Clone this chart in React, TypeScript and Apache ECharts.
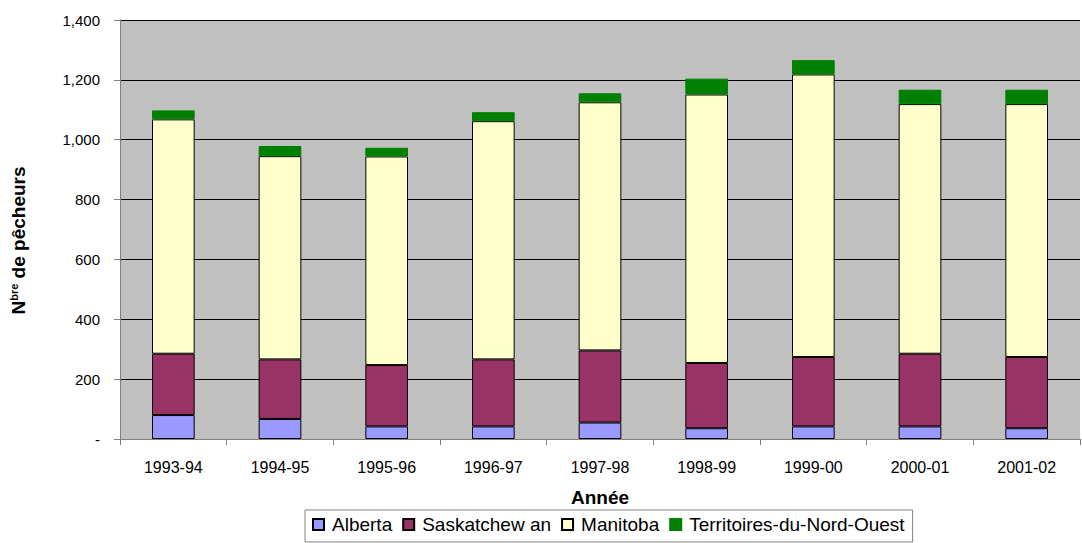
import React, { useEffect, useRef } from "react";
import * as echarts from "echarts";

const categories = ["1993-94", "1994-95", "1995-96", "1996-97", "1997-98", "1998-99", "1999-00", "2000-01", "2001-02"];
const alberta = [80, 67, 42, 42, 55, 36, 42, 42, 36];
const saskatchewan = [205, 199, 205, 224, 241, 218, 232, 243, 238];
const manitoba = [783, 679, 697, 796, 829, 897, 944, 834, 845];
const tno = [30, 34, 29, 30, 30, 53, 48, 48, 48];
const seriesNames = ["Alberta", "Saskatchew an", "Manitoba", "Territoires-du-Nord-Ouest"];
const seriesColors = ["#9999FF", "#993366", "#FFFFCC", "#008000"];

const FONT = "'Liberation Sans', Arial, sans-serif";

export default function App() {
  const ref = useRef<HTMLDivElement>(null);
  useEffect(() => {
    document.body.style.margin = "0";
    const chart = echarts.init(ref.current!, undefined, { renderer: "svg" });
    const data = [alberta, saskatchewan, manitoba, tno];
    chart.setOption({
      animation: false,
      textStyle: { fontFamily: FONT, color: "#000" },
      grid: { left: 118, right: 2, top: 20, bottom: 104, backgroundColor: "#C0C0C0", show: true, borderWidth: 0 },
      legend: {
        left: 305,
        top: 510,
        padding: [5, 8, 8, 7],
        borderColor: "#808080",
        borderWidth: 1,
        itemWidth: 11,
        itemHeight: 11,
        itemGap: 10,
        icon: "rect",
        textStyle: { fontSize: 19, fontFamily: FONT, color: "#000", padding: [0, 0, 0, 3] },
        data: seriesNames,
      },
      xAxis: {
        type: "category",
        data: categories,
        name: "Année",
        nameLocation: "middle",
        nameGap: 49,
        nameTextStyle: { fontSize: 19, fontWeight: "bold", fontFamily: FONT, color: "#000" },
        axisLine: { lineStyle: { color: "#808080" } },
        axisTick: { show: true, length: 6, lineStyle: { color: "#808080" } },
        axisLabel: { fontSize: 16, fontFamily: FONT, color: "#000", margin: 20 },
      },
      yAxis: {
        type: "value",
        min: 0,
        max: 1400,
        interval: 200,
        name: "{a|N}{sup|bre}{a| de pêcheurs}",
        nameLocation: "middle",
        nameGap: 92,
        nameTextStyle: {
          padding: [0, 22, 0, 0],
          rich: {
            a: { fontSize: 19, fontWeight: "bold", fontFamily: FONT, color: "#000" },
            sup: { fontSize: 11, fontWeight: "bold", fontFamily: FONT, color: "#000", padding: [0, 0, 9, 0] },
          },
        },
        axisLine: { show: true, lineStyle: { color: "#808080" } },
        axisTick: { show: true, length: 6, lineStyle: { color: "#808080" } },
        axisLabel: {
          fontSize: 15,
          fontFamily: FONT,
          color: "#000",
          margin: 20,
          formatter: (v: number) => (v === 0 ? "-" : v.toLocaleString("en-US")),
        },
        splitLine: { show: true, lineStyle: { color: "#000", width: 1 } },
      },
      series: seriesNames.map((name, i) => ({
        name,
        type: "bar",
        stack: "total",
        barWidth: "40%",
        data: data[i],
        itemStyle: {
          color: seriesColors[i],
          borderColor: i === 3 ? seriesColors[i] : "#000",
          borderWidth: 1,
        },
      })),
    });
    return () => chart.dispose();
  }, []);
  return <div ref={ref} style={{ width: 1082, height: 543 }} />;
}
